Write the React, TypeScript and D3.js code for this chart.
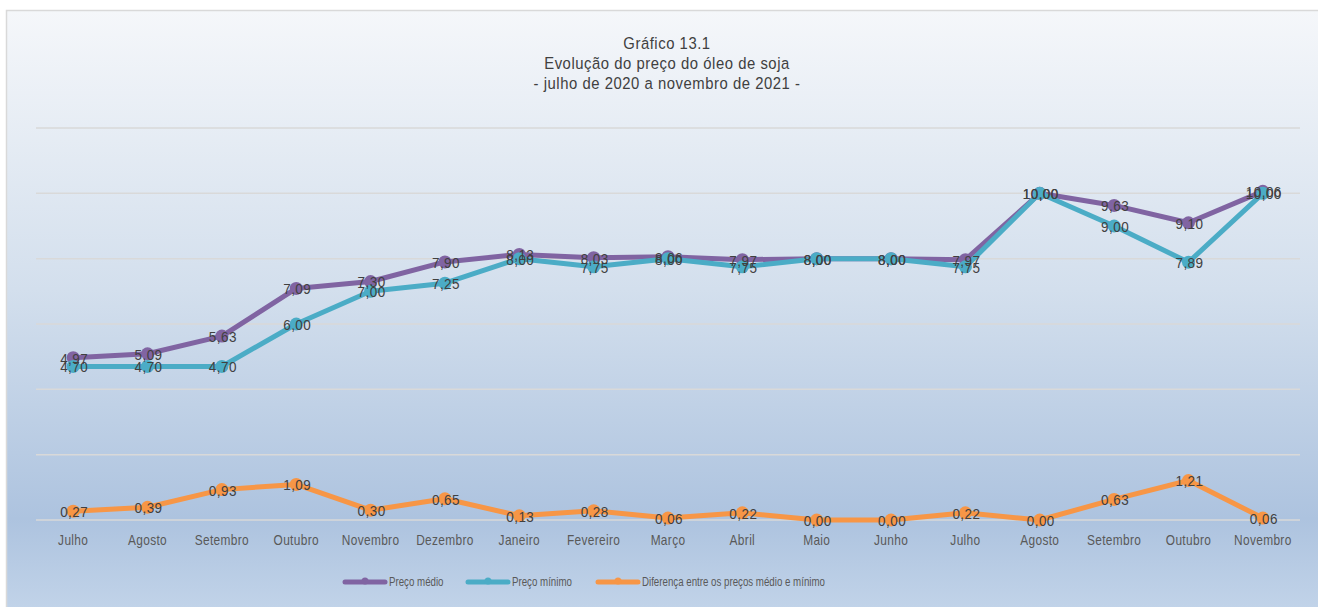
import React from "react";
import * as d3 from "d3";

const categories = ["Julho", "Agosto", "Setembro", "Outubro", "Novembro", "Dezembro", "Janeiro", "Fevereiro", "Março", "Abril", "Maio", "Junho", "Julho", "Agosto", "Setembro", "Outubro", "Novembro"];
const precoMedio = [4.97, 5.09, 5.63, 7.09, 7.30, 7.90, 8.13, 8.03, 8.06, 7.97, 8.00, 8.00, 7.97, 10.00, 9.63, 9.10, 10.06];
const precoMinimo = [4.70, 4.70, 4.70, 6.00, 7.00, 7.25, 8.00, 7.75, 8.00, 7.75, 8.00, 8.00, 7.75, 10.00, 9.00, 7.89, 10.00];
const diferenca = [0.27, 0.39, 0.93, 1.09, 0.30, 0.65, 0.13, 0.28, 0.06, 0.22, 0.00, 0.00, 0.22, 0.00, 0.63, 1.21, 0.06];
const yTicks = [0, 2, 4, 6, 8, 10, 12];
const titleLines = ["Gráfico 13.1", "Evolução do preço do óleo de soja", "- julho de 2020 a novembro de 2021 -"];
const seriesNames = ["Preço médio", "Preço mínimo", "Diferença entre os preços médio e mínimo"];
const seriesColors = ["#8064a2", "#4bacc6", "#f79646"];

const W = 1318;
const H = 607;
const FONT = '"Liberation Sans", Arial, sans-serif';

function SText(props: { x: number; y: number; sx: number; size: number; fill: string; anchor?: string; spacing?: number; children: React.ReactNode }) {
  const { x, y, sx, size, fill, anchor, spacing, children } = props;
  return (
    <text
      transform={`translate(${x},${y}) scale(${sx},1)`}
      dy="0.36em"
      textAnchor={anchor || "start"}
      fontFamily={FONT}
      fontSize={size}
      fill={fill}
      letterSpacing={spacing || 0}
    >
      {children}
    </text>
  );
}

export default function App() {
  const x = d3.scaleBand<number>().domain(d3.range(categories.length)).range([36, 1300]);
  const y = d3.scaleLinear().domain([0, 12]).range([520, 128]);
  const cx = (i: number) => (x(i) as number) + x.bandwidth() / 2;
  const line = d3.line<number>().x((_, i) => cx(i)).y((d) => y(d));
  const series = [precoMedio, precoMinimo, diferenca];
  const fmt = (v: number) => v.toFixed(2).replace(".", ",");

  const legendX = [345, 468, 598];

  return (
    <svg width={W} height={H} style={{ position: "absolute", left: 0, top: 0, display: "block" }}>
      <defs>
        <linearGradient id="bg" x1="0" y1="0" x2="0" y2="1">
          <stop offset="0" stopColor="#f5f7fa" />
          <stop offset="0.45" stopColor="#d3dfed" />
          <stop offset="0.82" stopColor="#adc3df" />
          <stop offset="1" stopColor="#c6d7eb" />
        </linearGradient>
      </defs>
      <rect x={0} y={0} width={W} height={H} fill="#ffffff" />
      <rect x={6.5} y={10.5} width={1330} height={620} fill="url(#bg)" stroke="#d9d9d9" strokeWidth={1.5} />
      {titleLines.map((t, i) => (
        <SText key={i} x={667} y={43 + i * 20} sx={0.9} size={16.5} fill="#404040" anchor="middle" spacing={0.6}>
          {t}
        </SText>
      ))}
      {yTicks.map((t) => (
        <line key={t} x1={36} x2={1300} y1={y(t)} y2={y(t)} stroke="#d9d9d9" strokeWidth={1.5} />
      ))}
      {series.map((s, k) => (
        <g key={k}>
          <path d={line(s) as string} fill="none" stroke={seriesColors[k]} strokeWidth={5} strokeLinejoin="round" strokeLinecap="round" />
          {s.map((v, i) => (
            <circle key={i} cx={cx(i)} cy={y(v)} r={6.5} fill={seriesColors[k]} />
          ))}
        </g>
      ))}
      {series.map((s, k) => (
        <g key={"l" + k}>
          {s.map((v, i) => (
            <SText key={i} x={cx(i) + 1} y={y(v) + 0.5} sx={0.9} size={15} fill="#404040" anchor="middle" spacing={0.5}>
              {fmt(v)}
            </SText>
          ))}
        </g>
      ))}
      {categories.map((c, i) => (
        <SText key={i} x={cx(i)} y={540} sx={0.85} size={14} fill="#595959" anchor="middle" spacing={0.4}>
          {c}
        </SText>
      ))}
      {seriesNames.map((n, k) => (
        <g key={n}>
          <line x1={legendX[k]} x2={legendX[k] + 40} y1={582} y2={582} stroke={seriesColors[k]} strokeWidth={5} strokeLinecap="round" />
          <circle cx={legendX[k] + 20} cy={581} r={3.5} fill={seriesColors[k]} />
          <SText x={legendX[k] + 44} y={581} sx={0.72} size={13.5} fill="#595959">
            {n}
          </SText>
        </g>
      ))}
    </svg>
  );
}
